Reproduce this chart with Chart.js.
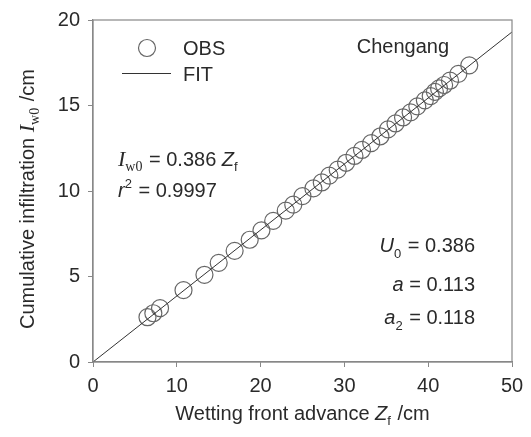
<!DOCTYPE html>
<html>
<head>
<meta charset="utf-8">
<script src="https://cdn.jsdelivr.net/npm/chart.js@4"></script>
<style>
  body { margin: 0; background: #fff; }
  #wrap { width: 531px; height: 437px; }
</style>
</head>
<body>
<div id="wrap"><canvas id="myChart" width="531" height="437"></canvas></div>
<script>
// observed wetting front advance (cm) and cumulative infiltration (cm)
var zf = [6.5, 7.2, 8.0, 10.8, 13.3, 15.0, 16.9, 18.7, 20.1, 21.5, 23.0, 23.9, 25.0, 26.3, 27.3, 28.2, 29.2, 30.2,
          31.2, 32.1, 33.2, 34.3, 35.2, 36.1, 37.0, 37.9, 38.7, 39.6, 40.3, 40.8, 41.3, 41.9, 42.6, 43.6, 44.9];
var iw0 = [2.62, 2.85, 3.15, 4.2, 5.1, 5.8, 6.5, 7.15, 7.7, 8.25, 8.85, 9.2, 9.7, 10.15, 10.5, 10.9, 11.25, 11.65,
           12.05, 12.4, 12.8, 13.2, 13.6, 13.95, 14.3, 14.6, 14.95, 15.3, 15.55, 15.8, 16.0, 16.2, 16.45, 16.85, 17.35];
// fitted line I = 0.386 Zf
var slope = 0.386;
var fitX = [0, 50];
var xTicks = [0, 10, 20, 30, 40, 50];
var yTicks = [0, 5, 10, 15, 20];

var SANS = '"Liberation Sans", Arial, sans-serif';
var SERIF = '"Liberation Serif", "Times New Roman", serif';
var TXT = '#2a2a2a';

document.addEventListener('DOMContentLoaded', function () {
    var ctx = document.getElementById('myChart').getContext('2d');

    var obsPts = zf.map(function (v, i) { return { x: v, y: iw0[i] }; });
    var fitPts = fitX.map(function (v) { return { x: v, y: slope * v }; });

    // draw a run of text pieces with own fonts / vertical offsets
    function rich(c, x, y, segs, align) {
        var w = 0;
        segs.forEach(function (s) { c.font = s.f; w += c.measureText(s.t).width + (s.gap || 0); });
        var cx = align === 'right' ? x - w : (align === 'center' ? x - w / 2 : x);
        c.textAlign = 'left';
        c.textBaseline = 'alphabetic';
        segs.forEach(function (s) {
            c.font = s.f;
            c.fillText(s.t, cx, y + (s.dy || 0));
            cx += c.measureText(s.t).width + (s.gap || 0);
        });
    }

    var extras = {
        id: 'extras',
        afterDraw: function (chart) {
            var c = chart.ctx, a = chart.chartArea;
            c.save();
            // box frame
            c.strokeStyle = '#888';
            c.lineWidth = 1.2;
            c.strokeRect(a.left, a.top, a.right - a.left, a.bottom - a.top);
            c.fillStyle = TXT;

            var f20 = '20px ' + SANS;
            var it20 = 'italic 20px ' + SANS;
            var sub = '13px ' + SANS;
            var serifI = 'italic 22px ' + SERIF;
            var serifSub = '14px ' + SERIF;

            // x axis title
            rich(c, (a.left + a.right) / 2, 420, [
                { t: 'Wetting front advance ', f: f20 },
                { t: 'Z', f: it20 },
                { t: 'f', f: sub, dy: 5, gap: 1 },
                { t: ' /cm', f: f20 }
            ], 'center');

            // y axis title
            c.save();
            c.translate(34, (a.top + a.bottom) / 2 + 8);
            c.rotate(-Math.PI / 2);
            rich(c, 0, 0, [
                { t: 'Cumulative infiltration ', f: f20 },
                { t: 'I', f: serifI },
                { t: 'w0', f: serifSub, dy: 5, gap: 1 },
                { t: ' /cm', f: f20 }
            ], 'center');
            c.restore();

            // legend
            c.strokeStyle = '#666';
            c.lineWidth = 1.2;
            c.beginPath();
            c.arc(147, 48, 8.5, 0, Math.PI * 2);
            c.stroke();
            c.strokeStyle = '#333';
            c.lineWidth = 1;
            c.beginPath();
            c.moveTo(122, 73.5);
            c.lineTo(171, 73.5);
            c.stroke();
            rich(c, 183, 55, [{ t: 'OBS', f: f20 }]);
            rich(c, 183, 81, [{ t: 'FIT', f: f20 }]);

            // site name
            rich(c, 449, 53, [{ t: 'Chengang', f: f20 }], 'right');

            // fit equation
            rich(c, 118, 166, [
                { t: 'I', f: serifI },
                { t: 'w0', f: serifSub, dy: 5, gap: 1 },
                { t: ' = 0.386 ', f: f20 },
                { t: 'Z', f: it20 },
                { t: 'f', f: sub, dy: 5 }
            ]);
            rich(c, 118, 197, [
                { t: 'r', f: it20 },
                { t: '2', f: sub, dy: -9, gap: 1 },
                { t: ' = 0.9997', f: f20 }
            ]);

            // parameters
            rich(c, 475, 252, [
                { t: 'U', f: it20 },
                { t: '0', f: sub, dy: 6, gap: 1 },
                { t: ' = 0.386', f: f20 }
            ], 'right');
            rich(c, 475, 291, [
                { t: 'a', f: it20 },
                { t: ' = 0.113', f: f20 }
            ], 'right');
            rich(c, 475, 324, [
                { t: 'a', f: it20 },
                { t: '2', f: sub, dy: 6, gap: 1 },
                { t: ' = 0.118', f: f20 }
            ], 'right');
            c.restore();
        }
    };

    var data = {
        datasets: [{
            label: 'FIT',
            data: fitPts,
            showLine: true,
            borderColor: '#333',
            borderWidth: 1,
            pointRadius: 0,
            fill: false
        }, {
            label: 'OBS',
            data: obsPts,
            showLine: false,
            pointStyle: 'circle',
            pointRadius: 8.5,
            pointBorderWidth: 1.2,
            pointBorderColor: '#666',
            pointBackgroundColor: 'rgba(0,0,0,0)'
        }]
    };

    var options = {
        responsive: false,
        animation: false,
        layout: { padding: { left: 0, top: 18, right: 19, bottom: 0 } },
        plugins: {
            legend: { display: false },
            tooltip: { enabled: false }
        },
        scales: {
            x: {
                type: 'linear',
                min: 0,
                max: 50,
                afterBuildTicks: function (s) { s.ticks = xTicks.map(function (v) { return { value: v }; }); },
                afterFit: function (s) { s.height = 75; },
                grid: { display: true, drawOnChartArea: false, drawTicks: true, tickLength: 5, color: '#888' },
                border: { display: true, color: '#888', width: 1.2 },
                ticks: { color: TXT, font: { family: SANS, size: 20 }, padding: 7, maxRotation: 0 }
            },
            y: {
                type: 'linear',
                min: 0,
                max: 20,
                afterBuildTicks: function (s) { s.ticks = yTicks.map(function (v) { return { value: v }; }); },
                afterFit: function (s) { s.width = 93; },
                grid: { display: true, drawOnChartArea: false, drawTicks: true, tickLength: 5, color: '#888' },
                border: { display: true, color: '#888', width: 1.2 },
                ticks: { color: TXT, font: { family: SANS, size: 20 }, padding: 8 }
            }
        }
    };

    var myChart = new Chart(ctx, {
        type: 'scatter',
        data: data,
        options: options,
        plugins: [extras]
    });
});
</script>
</body>
</html>
